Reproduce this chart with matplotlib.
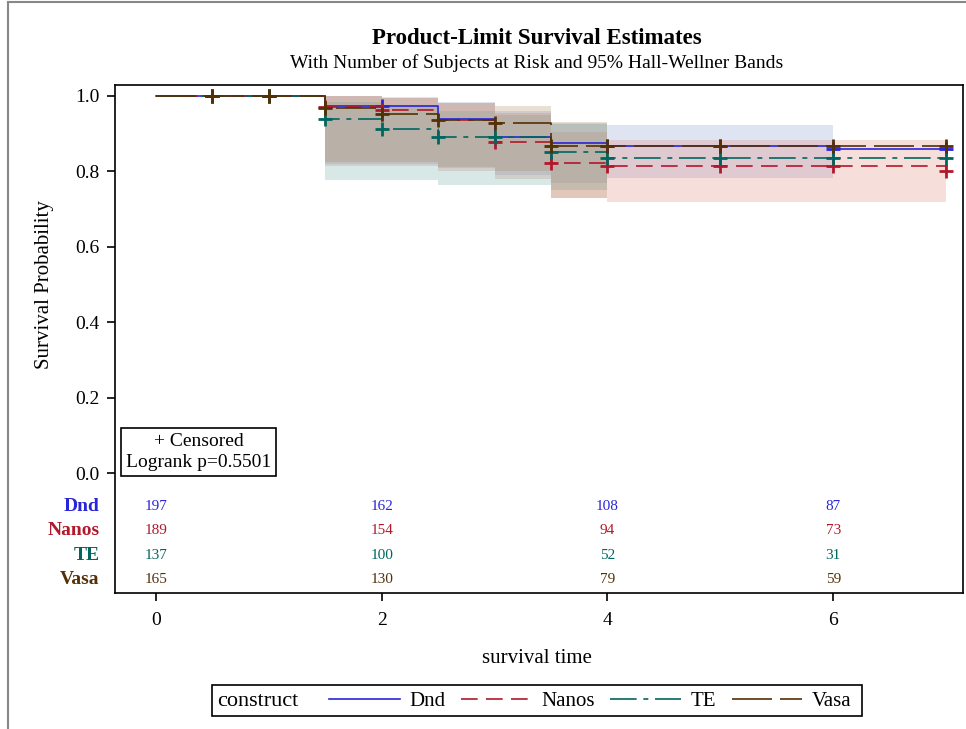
import numpy as np
import matplotlib
matplotlib.use("Agg")
import matplotlib.pyplot as plt
from matplotlib.lines import Line2D
from matplotlib.patches import Rectangle
import matplotlib.transforms as mtransforms

plt.rcParams['font.family'] = ['Liberation Serif', 'DejaVu Serif']

# Curvas de supervivencia (Kaplan-Meier)
GROUPS = ["Dnd", "Nanos", "TE", "Vasa"]
times = [0, 1.5, 2, 2.5, 3, 3.5, 4, 6, 7]
surv_dnd = [1.0, 0.972, 0.972, 0.939, 0.892, 0.876, 0.868, 0.859, 0.859]
surv_nanos = [1.0, 0.970, 0.963, 0.937, 0.879, 0.823, 0.814, 0.814, 0.802]
surv_te = [1.0, 0.939, 0.912, 0.892, 0.892, 0.851, 0.835, 0.835, 0.835]
surv_vasa = [1.0, 0.967, 0.951, 0.936, 0.927, 0.868, 0.868, 0.868, 0.868]

# Tiempos censurados por grupo
cens_dnd = [0.5, 1, 2, 4, 5, 6, 7]
cens_nanos = [0.5, 1, 1.5, 2, 3, 3.5, 4, 5, 6, 7]
cens_te = [0.5, 1, 1.5, 2, 2.5, 3, 3.5, 4, 5, 6, 7]
cens_vasa = [0.5, 1, 1.5, 2, 2.5, 3, 3.5, 4, 5, 6, 7]

# Bandas Hall-Wellner 95% (inicio de cada intervalo, limite inferior/superior)
band_t_dnd = [1.5, 2, 2.5, 3, 3.5, 4, 6]
band_lo_dnd = [0.820, 0.820, 0.810, 0.790, 0.770, 0.783]
band_hi_dnd = [1.0, 0.995, 0.985, 0.960, 0.928, 0.923]
band_t_nanos = [1.5, 2, 2.5, 3, 3.5, 4, 7]
band_lo_nanos = [0.814, 0.814, 0.800, 0.780, 0.730, 0.720]
band_hi_nanos = [1.0, 0.996, 0.981, 0.955, 0.905, 0.883]
band_t_te = [1.5, 2, 2.5, 3, 3.5, 4]
band_lo_te = [0.777, 0.777, 0.764, 0.764, 0.750]
band_hi_te = [0.985, 0.975, 0.960, 0.950, 0.925]
band_t_vasa = [1.5, 2, 2.5, 3, 3.5, 4]
band_lo_vasa = [0.826, 0.826, 0.812, 0.800, 0.729]
band_hi_vasa = [1.0, 0.995, 0.980, 0.972, 0.930]

# Numero en riesgo
risk_times = [0, 2, 4, 6]
risk_dnd = [197, 162, 108, 87]
risk_nanos = [189, 154, 94, 73]
risk_te = [137, 100, 52, 31]
risk_vasa = [165, 130, 79, 59]

T_END = 7
LINE_COLORS = ["#2A25D9", "#B2182B", "#01665E", "#543005"]
FILL_COLORS = ["#7C95CA", "#DE7E6F", "#66A5A0", "#A9865B"]
LW = 1.2
STYLES = ["-", (0, (10, 5)), (0, (16, 4, 3, 4)), (0, (24, 4.8))]

survs = [surv_dnd, surv_nanos, surv_te, surv_vasa]
censs = [cens_dnd, cens_nanos, cens_te, cens_vasa]
bands = [(band_t_dnd, band_lo_dnd, band_hi_dnd),
         (band_t_nanos, band_lo_nanos, band_hi_nanos),
         (band_t_te, band_lo_te, band_hi_te),
         (band_t_vasa, band_lo_vasa, band_hi_vasa)]
risks = [risk_dnd, risk_nanos, risk_te, risk_vasa]


def step_value(t_arr, s_arr, t):
    idx = np.searchsorted(t_arr, t, side='right') - 1
    return s_arr[idx]


fig = plt.figure(figsize=(9.66, 7.29), dpi=100)
ax = fig.add_axes([115/966, 1-593/729, 848/966, 508/729])

# Bandas de confianza
for i in range(4):
    bt, lo, hi = bands[i]
    ax.fill_between(bt, lo + [lo[-1]], hi + [hi[-1]], step='post',
                    color=FILL_COLORS[i], alpha=0.25, linewidth=0)

# Curvas y marcas de censura
for i in range(4):
    t = times + [T_END]
    s = survs[i] + [survs[i][-1]]
    ax.step(t, s, where='post', color=LINE_COLORS[i], lw=LW,
            linestyle=STYLES[i])
    cy = [step_value(np.array(times), survs[i], c) for c in censs[i]]
    ax.plot(censs[i], cy, linestyle='none', marker='+', markersize=10,
            mew=2.0, color=LINE_COLORS[i])

# Tabla de numero en riesgo
risk_rows = [-0.0875, -0.151, -0.2175, -0.281]
trans = mtransforms.blended_transform_factory(ax.transAxes, ax.transData)
for i in range(4):
    ax.text(-0.018, risk_rows[i], GROUPS[i], transform=trans, ha='right',
            va='center', fontsize=14, fontweight='bold', color=LINE_COLORS[i])
    for rt, n in zip(risk_times, risks[i]):
        ax.text(rt, risk_rows[i], str(n), ha='center', va='center',
                fontsize=11, color=LINE_COLORS[i])

ax.set_xlim(-0.363, 7.15)
ax.set_ylim(-0.318, 1.029)
ax.set_xticks([0, 2, 4, 6])
ax.set_yticks([0.0, 0.2, 0.4, 0.6, 0.8, 1.0])
ax.set_yticklabels(["0.0", "0.2", "0.4", "0.6", "0.8", "1.0"])
ax.tick_params(direction='out', length=6, width=1.2, labelsize=14, pad=5)
ax.tick_params(axis='x', pad=8)
for sp in ax.spines.values():
    sp.set_linewidth(1.2)

ax.text(0.4976, -0.128, "survival time", transform=ax.transAxes,
        ha='center', va='center', fontsize=15)
ax.text(-0.083, 0.608, "Survival Probability", transform=ax.transAxes,
        ha='center', va='center', rotation=90, fontsize=15)

# Caja de censura / logrank
ax.text(0.099, 0.277, "+ Censored\nLogrank p=0.5501", transform=ax.transAxes,
        ha='center', va='center', multialignment='center', fontsize=14,
        linespacing=1.3,
        bbox=dict(boxstyle='square,pad=0.25', fc='white', ec='black', lw=1.2))

# Titulos
fig.text(537/966, 1-38/729, "Product-Limit Survival Estimates", ha='center',
         va='center', fontsize=16.5, fontweight='bold')
fig.text(537/966, 1-63/729,
         "With Number of Subjects at Risk and 95% Hall-Wellner Bands",
         ha='center', va='center', fontsize=14)

# Leyenda
handles = [Line2D([], [], color=LINE_COLORS[i], lw=LW, linestyle=STYLES[i])
           for i in range(4)]
leg = fig.legend(handles, GROUPS, ncol=4, frameon=False, loc='center left',
                 bbox_to_anchor=(329/966, 1-701/729), fontsize=15,
                 handlelength=3.4, handletextpad=0.45, columnspacing=0.75,
                 borderpad=0, borderaxespad=0)
fig.text(217/966, 1-701/729, "construct", ha='left', va='center', fontsize=16)
fig.add_artist(Rectangle((212/966, 1-716/729), 650/966, 31/729,
                         transform=fig.transFigure, fill=False, ec='black',
                         lw=1.2))

# Borde de la figura
fig.add_artist(Line2D([8/966, 8/966], [0, 1-2/729], transform=fig.transFigure,
                      color='#888888', lw=1.5))
fig.add_artist(Line2D([8/966, 1], [1-2/729, 1-2/729], transform=fig.transFigure,
                      color='#888888', lw=1.5))

fig.savefig("out.png", dpi=100)
